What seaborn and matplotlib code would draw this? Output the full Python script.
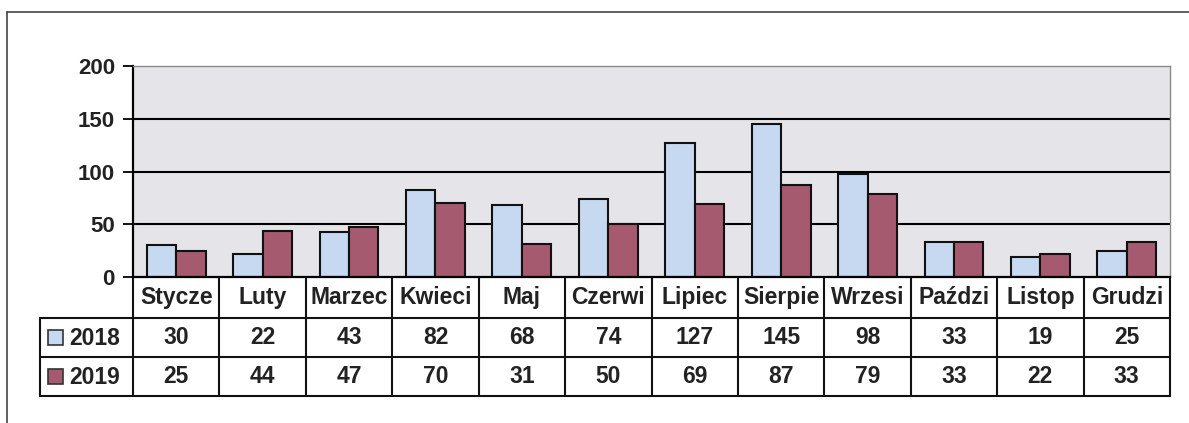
import numpy as np
import pandas as pd
import seaborn as sns
import matplotlib.pyplot as plt
from matplotlib.patches import Rectangle
from matplotlib.lines import Line2D

# data
months = ["Stycze", "Luty", "Marzec", "Kwieci", "Maj", "Czerwi",
          "Lipiec", "Sierpie", "Wrzesi", "Paździ", "Listop", "Grudzi"]
years = ["2018", "2019"]
v2018 = [30, 22, 43, 82, 68, 74, 127, 145, 98, 33, 19, 25]
v2019 = [25, 44, 47, 70, 31, 50, 69, 87, 79, 33, 22, 33]
yticks = [0, 50, 100, 150, 200]

colors = {"2018": "#c6d9f1", "2019": "#a65a70"}

sns.set_style("white")
plt.rcParams['font.family'] = ['Liberation Sans', 'DejaVu Sans']
plt.rcParams['font.weight'] = 'bold'

W, H = 1189, 423
fig = plt.figure(figsize=(W / 100, H / 100), dpi=100)
ax = fig.add_axes([133 / W, 1 - 277 / H, 1037 / W, 211 / H])


def px(x, y):
    # pixel position -> figure fraction
    return x / W, 1 - y / H


df = pd.DataFrame({
    "miesiac": months * 2,
    "rok": [years[0]] * len(months) + [years[1]] * len(months),
    "wartosc": v2018 + v2019,
})

sns.barplot(data=df, x="miesiac", y="wartosc", hue="rok", order=months,
            hue_order=years, palette=colors, saturation=1, width=0.68,
            edgecolor="#111111", linewidth=1.5, legend=False, ax=ax, zorder=2)

ax.set_facecolor("#e5e5e9")
ax.set_xlim(-0.5, len(months) - 0.5)
ax.set_ylim(yticks[0], yticks[-1])
ax.set_yticks(yticks)
for t in yticks[1:-1]:
    ax.axhline(t, color="black", lw=1.5, zorder=1)
ax.set_xlabel("")
ax.set_ylabel("")
ax.set_xticks([])
ax.tick_params(axis="y", direction="out", length=7, width=1.3, color="black",
               labelsize=16, pad=6, left=True)
for lab in ax.get_yticklabels():
    lab.set_fontweight("bold")
    lab.set_color("#222222")

for s in ["left", "bottom"]:
    ax.spines[s].set_color("black")
    ax.spines[s].set_linewidth(1.6)
for s in ["top", "right"]:
    ax.spines[s].set_color("#8a8a8a")
    ax.spines[s].set_linewidth(1.0)

# data table under the plot
tr = ax.get_xaxis_transform()
rows_px = [277, 318, 357, 396]
rows_y = [-(r - 277) / 211 for r in rows_px]
edges = np.arange(len(months) + 1) - 0.5
for x in edges:
    ax.plot([x, x], [rows_y[0], rows_y[-1]], transform=tr, color="#111111",
            lw=1.5, clip_on=False)
for y_px in rows_px[1:]:
    fig.add_artist(Line2D([40 / W, 1170 / W], [1 - y_px / H] * 2,
                          color="#111111", lw=1.5))
fig.add_artist(Line2D([40 / W] * 2, [1 - 318 / H, 1 - 396 / H],
                      color="#111111", lw=1.5))

fs = 16.5
rows_text = [months, v2018, v2019]
for r, vals in enumerate(rows_text):
    yc = (rows_y[r] + rows_y[r + 1]) / 2
    for i, v in enumerate(vals):
        ax.text(i, yc, str(v), transform=tr, ha="center", va="center",
                fontsize=fs, fontweight="bold", color="#222222")

# row labels with legend keys
for yr, yc in zip(years, [338, 377]):
    x0, y0 = px(48, yc + 7)
    fig.add_artist(Rectangle((x0, y0), 15 / W, 15 / H, facecolor=colors[yr],
                             edgecolor="#333333", lw=1.2,
                             transform=fig.transFigure))
    fig.text(*px(69, yc), yr, ha="left", va="center", fontsize=fs,
             fontweight="bold", color="#222222")

# outer chart frame (cropped in the scan)
fig.add_artist(Line2D([7 / W, 1.0], [1 - 12 / H] * 2, color="#444444", lw=1.2))
fig.add_artist(Line2D([7 / W] * 2, [1 - 12 / H, 0], color="#444444", lw=1.2))

fig.savefig("out.png", dpi=100)
